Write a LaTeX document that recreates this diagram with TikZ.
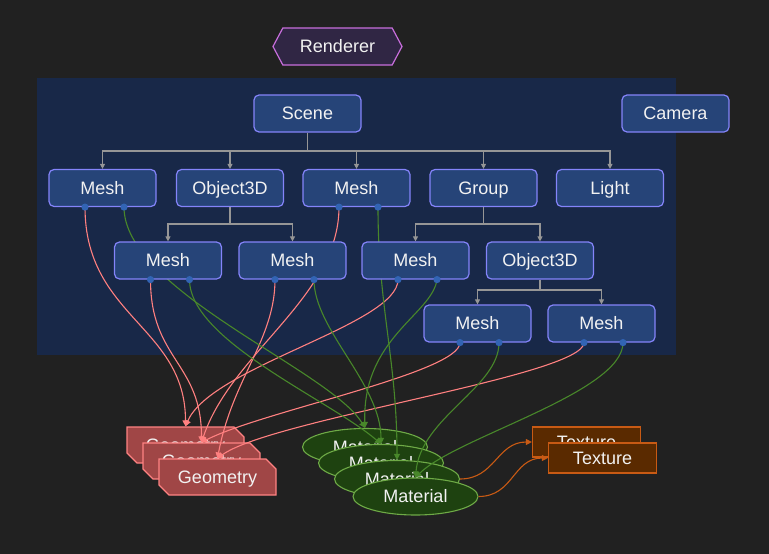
\documentclass[tikz,border=0pt]{standalone}
\usepackage{fontspec}
\setmainfont{Liberation Sans}
\usetikzlibrary{arrows.meta,shapes.geometric,shapes.misc,shapes.symbols}
\definecolor{bgc}{RGB}{33,33,33}
\definecolor{panelc}{RGB}{24,40,72}
\definecolor{nodefill}{RGB}{38,68,120}
\definecolor{nodedraw}{RGB}{132,132,250}
\definecolor{treec}{RGB}{150,150,150}
\definecolor{rendfill}{RGB}{48,38,68}
\definecolor{renddraw}{RGB}{200,110,220}
\definecolor{geofill}{RGB}{160,70,70}
\definecolor{geodraw}{RGB}{255,130,130}
\definecolor{rededge}{RGB}{255,128,128}
\definecolor{matfill}{RGB}{30,66,16}
\definecolor{matdraw}{RGB}{110,170,70}
\definecolor{greenedge}{RGB}{72,135,42}
\definecolor{texfill}{RGB}{90,42,0}
\definecolor{texdraw}{RGB}{200,90,20}
\definecolor{orangeedge}{RGB}{200,90,20}
\definecolor{dotc}{RGB}{50,100,180}
\definecolor{txt}{RGB}{242,242,242}
\pgfdeclarelayer{bglayer}
\pgfdeclarelayer{lowlayer}
\pgfdeclarelayer{edgelayer}
\pgfsetlayers{bglayer,lowlayer,edgelayer,main}
\tikzset{
  every node/.style={font=\fontsize{18}{21}\selectfont, text=txt, text height=15.8pt, text depth=3.6pt},
  objbox/.style={draw=nodedraw, fill=nodefill, line width=1.2pt, rounded corners=5pt,
    minimum width=107pt, minimum height=37pt, inner sep=0pt},
  rendbox/.style={shape=signal, signal to=east and west, signal pointer angle=124,
    draw=renddraw, fill=rendfill, line width=1.2pt, minimum width=129pt, minimum height=37pt, inner sep=0pt},
  geobox/.style={shape=chamfered rectangle, chamfered rectangle corners={north east,south west},
    chamfered rectangle xsep=5pt, chamfered rectangle ysep=5pt,
    draw=geodraw, fill=geofill, line width=1.2pt, minimum width=117pt, minimum height=36pt, inner sep=0pt},
  matbox/.style={ellipse, draw=matdraw, fill=matfill, line width=1.1pt,
    minimum width=125pt, minimum height=37pt, inner sep=0pt},
  texbox/.style={rectangle, draw=texdraw, fill=texfill, line width=1.2pt,
    minimum width=108pt, minimum height=30pt, inner sep=0pt},
  treeedge/.style={draw=treec, line width=1.1pt, -{Triangle[length=5pt,width=5pt]}},
  treeline/.style={draw=treec, line width=1.1pt},
  redge/.style={draw=rededge, line width=1.1pt, -{Triangle[length=6pt,width=6pt]}},
  gedge/.style={draw=greenedge, line width=1.1pt, -{Triangle[length=6pt,width=6pt]}},
  oedge/.style={draw=orangeedge, line width=1.1pt, -{Triangle[length=6pt,width=6pt]}},
  portdot/.style={fill=dotc}
}
\begin{document}
\begin{tikzpicture}[x=1pt,y=-1pt]
\useasboundingbox (0,0) rectangle (769,554);
\begin{pgfonlayer}{bglayer}
\fill[bgc] (0,0) rectangle (769,554);
\fill[panelc] (37,78) rectangle (676,355);
\end{pgfonlayer}

% nodes
\node[rendbox] (renderer) at (337.5,46.5) {Renderer};
\node[objbox] (scene) at (307.5,113.5) {Scene};
\node[objbox] (camera) at (675.5,113.5) {Camera};

\node[objbox] (mesh1) at (102.5,188) {Mesh};
\node[objbox] (obj1) at (230,188) {Object3D};
\node[objbox] (meshC) at (356.5,188) {Mesh};
\node[objbox] (group) at (483.5,188) {Group};
\node[objbox] (light) at (610,188) {Light};

\node[objbox] (meshA) at (168,260.5) {Mesh};
\node[objbox] (meshB) at (292.5,260.5) {Mesh};
\node[objbox] (meshC2) at (415.5,260.5) {Mesh};
\node[objbox] (obj2) at (540,260.5) {Object3D};

\node[objbox] (meshD) at (477.5,323.5) {Mesh};
\node[objbox] (meshE) at (601.5,323.5) {Mesh};

\begin{pgfonlayer}{lowlayer}
\node[geobox] (g1) at (185.5,445) {Geometry};
\node[geobox] (g2) at (201.5,461) {Geometry};
\node[geobox] (g3) at (217.5,477) {Geometry};

\node[matbox] (mat1) at (365,447) {Material};
\node[matbox] (mat2) at (381,463) {Material};
\node[matbox] (mat3) at (397,479) {Material};
\node[matbox] (mat4) at (415.5,496.5) {Material};

\node[texbox] (tex1) at (586.5,442) {Texture};
\node[texbox] (tex2) at (602.5,458) {Texture};
\end{pgfonlayer}

% ports
\foreach \m in {mesh1,meshA,meshB,meshC,meshC2,meshD,meshE}{
  \coordinate (\m l) at ([xshift=-17.5pt]\m.south);
  \coordinate (\m r) at ([xshift=21.5pt]\m.south);
  \fill[portdot] (\m l) circle (3.6);
  \fill[portdot] (\m r) circle (3.6);
}

% bus points
\coordinate (sbus) at (307.5,151);
\coordinate (obus) at (230,224);
\coordinate (gbus) at (483.5,224);
\coordinate (o2bus) at (540,290);

\begin{pgfonlayer}{edgelayer}
\draw[treeline] (scene.south) -- (sbus);
\foreach \c in {mesh1,obj1,meshC,group,light} \draw[treeedge] (sbus) -| (\c.north);
\draw[treeline] (obj1.south) -- (obus);
\foreach \c in {meshA,meshB} \draw[treeedge] (obus) -| (\c.north);
\draw[treeline] (group.south) -- (gbus);
\foreach \c in {meshC2,obj2} \draw[treeedge] (gbus) -| (\c.north);
\draw[treeline] (obj2.south) -- (o2bus);
\foreach \c in {meshD,meshE} \draw[treeedge] (o2bus) -| (\c.north);

% geometry edges
\draw[redge] (mesh1l) .. controls +(0,110) and +(0,-100) .. (g1.north);
\draw[redge] (meshC2l) .. controls +(0,45) and +(25.5,-60) .. (g1.north);
\draw[redge] (meshAl) .. controls +(0,80) and +(0,-80) .. (g2.north);
\draw[redge] (meshCl) .. controls +(0,90) and +(30,-90) .. (g2.north);
\draw[redge] (meshDl) .. controls +(0,30) and +(60,-31) .. (g2.north);
\draw[redge] (meshBl) .. controls +(0,60) and +(15,-80) .. (g3.north);
\draw[redge] (meshEl) .. controls +(0,33) and +(52.5,-39) .. (g3.north);

% material edges
\draw[gedge] (mesh1r) .. controls +(0,84) and +(-35,-58) .. (mat1.north);
\draw[gedge] (meshC2r) .. controls +(-5,35) and +(-3,-90) .. (mat1.north);
\draw[gedge] (meshAr) .. controls +(0,61) and +(-51,-44) .. (mat2.north);
\draw[gedge] (meshBr) .. controls +(0,50) and +(0,-60) .. (mat2.north);
\draw[gedge] (meshCr) .. controls +(0,100) and +(0,-100) .. (mat3.north);
\draw[gedge] (meshDr) .. controls +(0,45) and +(5,-60) .. (mat4.north);
\draw[gedge] (meshEr) .. controls +(0,50) and +(40,-40) .. (mat4.north);

% texture edges
\draw[oedge] (mat3.east) .. controls +(35,0) and +(-35,0) .. (tex1.west);
\draw[oedge] (mat4.east) .. controls +(35,0) and +(-35,0) .. (tex2.west);
\end{pgfonlayer}
\end{tikzpicture}
\end{document}
